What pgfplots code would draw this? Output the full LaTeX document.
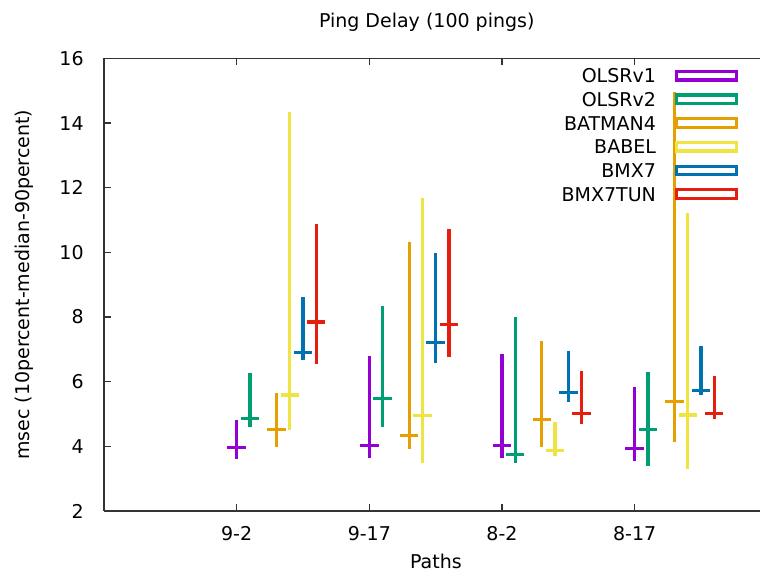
\documentclass[border=0pt]{standalone}
\usepackage{fontspec}
\setmainfont{DejaVu Sans}
\usepackage{pgfplots}
\usepackage{pgfplotstable}
\pgfplotsset{compat=1.18}

\definecolor{cOLa}{HTML}{9400D3}
\definecolor{cOLb}{HTML}{009E73}
\definecolor{cBAT}{HTML}{E69F00}
\definecolor{cBAB}{HTML}{F0E442}
\definecolor{cBMX}{HTML}{0072B2}
\definecolor{cTUN}{HTML}{E51E10}
\definecolor{frame}{HTML}{333333}

% ping delay per path: 10th percentile, median, 90th percentile (msec)
% x = path index + offset of the protocol inside the group
\pgfplotstableread{
x   lo   med  hi
1.0 3.60 3.96 4.82
2.0 3.63 4.03 6.80
3.0 3.65 4.03 6.85
4.0 3.56 3.93 5.83
}\olsra
\pgfplotstableread{
x   lo   med  hi
1.1 4.61 4.85 6.26
2.1 4.60 5.47 8.35
3.1 3.49 3.75 8.00
4.1 3.39 4.51 6.29
}\olsrb
\pgfplotstableread{
x   lo   med  hi
1.3 3.99 4.51 5.64
2.3 3.91 4.34 10.33
3.3 3.97 4.82 7.26
4.3 4.14 5.38 14.97
}\batman
\pgfplotstableread{
x   lo   med  hi
1.4 4.51 5.59 14.35
2.4 3.48 4.96 11.67
3.4 3.71 3.88 4.74
4.4 3.29 4.97 11.21
}\babel
\pgfplotstableread{
x   lo   med  hi
1.5 6.67 6.91 8.61
2.5 6.59 7.22 9.97
3.5 5.37 5.66 6.95
4.5 5.59 5.74 7.11
}\bmx
\pgfplotstableread{
x   lo   med  hi
1.6 6.55 7.85 10.87
2.6 6.77 7.76 10.72
3.6 4.68 5.01 6.33
4.6 4.84 5.02 6.18
}\bmxtun

\pgfplotsset{
  pctbar/.style={
    only marks, color=#1,
    mark=-, mark size=4.6pt, mark options={line width=1.6pt, solid},
    /pgfplots/legend image code/.code={
      \draw[line width=1.6pt, #1] (0pt,-2.15pt) rectangle (29.8pt,2.15pt);},
    error bars/.cd, y dir=both, y explicit, error mark=none,
    error bar style={line width=1.6pt, color=#1, line cap=butt},
  },
  /pgfplots/table/pcttable/.style={x=x, y=med,
    y error plus expr=\thisrow{hi}-\thisrow{med},
    y error minus expr=\thisrow{med}-\thisrow{lo}},
}

\begin{document}
\fontsize{9.5pt}{11pt}\selectfont
\begin{tikzpicture}
\begin{axis}[
  scale only axis,
  width=328pt, height=226.25pt,
  xmin=0, xmax=4.945,
  ymin=2, ymax=16,
  ytick={2,4,...,16},
  xtick={1,2,3,4},
  xticklabels={9-2,9-17,8-2,8-17},
  axis x line=box, axis y line=left,
  axis line style={draw=frame, line width=0.8pt, -},
  tick style={draw=frame, line width=0.7pt},
  major tick length=3.3pt,
  tick align=inside,
  /pgf/number format/assume math mode=true,
  xticklabel style={anchor=base, yshift=-15pt},
  yticklabel style={anchor=east, inner sep=0pt, xshift=-10pt},
  title={Ping Delay (100 pings)},
  every axis title/.style={at={(axis description cs:0.492,1.068)}, anchor=base},
  xlabel={Paths},
  xlabel style={at={(axis description cs:0.506,-0.126)}, anchor=base},
  ylabel={msec (10percent-median-90percent)},
  ylabel style={at={(axis description cs:-0.122,0.5)}, anchor=center},
  legend cell align=right,
  legend plot pos=right,
  legend style={at={(axis description cs:0.966,0.9775)}, anchor=north east,
    draw=none, fill=none, inner sep=0pt, outer sep=0pt,
    row sep=4.85pt, column sep=9.5pt,
    nodes={inner sep=0pt, text height=7pt, text depth=0pt}},
]
\addplot[pctbar=cOLa] table[pcttable] {\olsra};
\addlegendentry{OLSRv1}
\addplot[pctbar=cOLb] table[pcttable] {\olsrb};
\addlegendentry{OLSRv2}
\addplot[pctbar=cBAT] table[pcttable] {\batman};
\addlegendentry{BATMAN4}
\addplot[pctbar=cBAB] table[pcttable] {\babel};
\addlegendentry{BABEL}
\addplot[pctbar=cBMX] table[pcttable] {\bmx};
\addlegendentry{BMX7}
\addplot[pctbar=cTUN] table[pcttable] {\bmxtun};
\addlegendentry{BMX7TUN}
\end{axis}
\pgfresetboundingbox
\path[use as bounding box] (-52pt,-35.5pt) rectangle (328pt,255.5pt);
\end{tikzpicture}
\end{document}
